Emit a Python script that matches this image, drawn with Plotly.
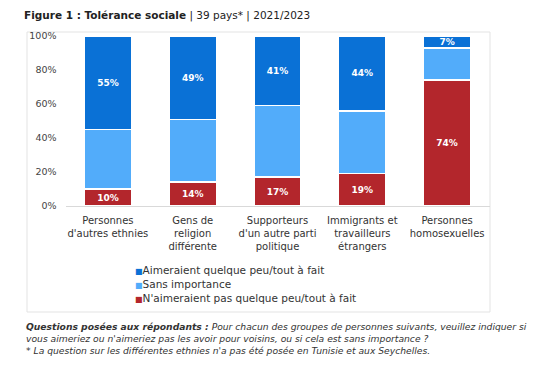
import plotly.graph_objects as go

categories = ["Personnes<br>d'autres ethnies", "Gens de<br>religion<br>différente",
              "Supporteurs<br>d'un autre parti<br>politique", "Immigrants et<br>travailleurs<br>étrangers",
              "Personnes<br>homosexuelles"]
aimeraient = [55, 49, 41, 44, 7]
sans_importance = [35, 37, 42, 37, 19]
naimeraient_pas = [10, 14, 17, 19, 74]
y_ticks = [0, 20, 40, 60, 80, 100]
y_tick_labels = ["0%", "20%", "40%", "60%", "80%", "100%"]
series_names = ["Aimeraient quelque peu/tout à fait", "Sans importance",
                "N'aimeraient pas quelque peu/tout à fait"]
series_colors = ["#0a71d6", "#52acfa", "#b3262c"]

OFF = 8  # page body margin
W, H = 546 - OFF, 367 - OFF
FONT = "DejaVu Sans"

def px(x):
    return (x - OFF) / W

def py(y):
    return (H - (y - OFF)) / H

fig = go.Figure()
lab_font = dict(family=FONT, size=9, color="white")
fig.add_trace(go.Bar(x=categories, y=naimeraient_pas, name=series_names[2],
                     marker=dict(color=series_colors[2], line=dict(color="white", width=1.5)),
                     text=[f"<b>{v}%</b>" for v in naimeraient_pas], textposition="inside",
                     insidetextanchor="middle", textfont=lab_font, hoverinfo="skip"))
fig.add_trace(go.Bar(x=categories, y=sans_importance, name=series_names[1],
                     marker=dict(color=series_colors[1], line=dict(color="white", width=1.5)),
                     hoverinfo="skip"))
fig.add_trace(go.Bar(x=categories, y=aimeraient, name=series_names[0],
                     marker=dict(color=series_colors[0], line=dict(color="white", width=1.5)),
                     text=[f"<b>{v}%</b>" for v in aimeraient], textposition="inside",
                     insidetextanchor="middle", textfont=lab_font, hoverinfo="skip"))
# carrier for the category label axis (draws nothing)
fig.add_trace(go.Scatter(x=categories, y=[0] * len(categories), xaxis="x2", yaxis="y",
                         mode="none", hoverinfo="skip", showlegend=False))

fig.update_layout(
    width=W, height=H, autosize=False,
    margin=dict(l=0, r=0, t=0, b=0, autoexpand=False),
    paper_bgcolor="white", plot_bgcolor="white",
    barmode="stack", bargap=0.44, showlegend=False,
    uniformtext=dict(minsize=6, mode="show"),
    font=dict(family=FONT, size=10, color="#333333"),
    xaxis=dict(domain=[px(65.5), px(489.5)], showline=True, linecolor="#d9d9d9", linewidth=1,
               ticks="", showticklabels=False, showgrid=False, automargin=False),
    xaxis2=dict(domain=[px(62.5), px(468.5)], anchor="y", overlaying="x", side="bottom",
                type="category", categoryorder="array", categoryarray=categories,
                range=[-0.5, len(categories) - 0.5],
                showline=False, showgrid=False, zeroline=False, ticks="",
                tickfont=dict(family=FONT, size=10, color="#333333"), automargin=False,
                ticklabelstandoff=7),
    yaxis=dict(domain=[py(206), py(36)], range=[0, 100], tickvals=y_ticks, ticktext=y_tick_labels,
               showgrid=False, zeroline=False, showline=False, ticks="", automargin=False,
               tickfont=dict(family=FONT, size=9.5, color="#444444"), ticklabelstandoff=8),
    shapes=[dict(type="rect", xref="paper", yref="paper", x0=px(27), x1=px(490),
                 y0=py(312), y1=py(32), line=dict(color="#e3e3e3", width=1), layer="below")],
)

ann = [
    dict(text="<b>Figure 1 : Tolérance sociale</b> | 39 pays* | 2021/2023", x=px(22), y=py(15),
         font=dict(family=FONT, size=10.5, color="#222222")),
    dict(text="<b><i>Questions posées aux répondants :</i></b><i> Pour chacun des groupes de personnes suivants, veuillez indiquer si</i>",
         x=px(24), y=py(326), font=dict(family=FONT, size=9.2, color="#333333")),
    dict(text="<i>vous aimeriez ou n'aimeriez pas les avoir pour voisins, ou si cela est sans importance ?</i>",
         x=px(24), y=py(338), font=dict(family=FONT, size=9.2, color="#333333")),
    dict(text="<i>* La question sur les différentes ethnies n'a pas été posée en Tunisie et aux Seychelles.</i>",
         x=px(24), y=py(350), font=dict(family=FONT, size=9.2, color="#333333")),
]
for i, (name, col) in enumerate(zip(series_names, series_colors)):
    ann.append(dict(text=f"<span style='color:{col};font-size:8px'>■</span>{name}",
                    x=px(133), y=py(270 + 14 * i), font=dict(family=FONT, size=10.5, color="#333333")))
for a in ann:
    fig.add_annotation(xref="paper", yref="paper", xanchor="left", yanchor="middle",
                       showarrow=False, **a)

fig.write_html("out.html")
